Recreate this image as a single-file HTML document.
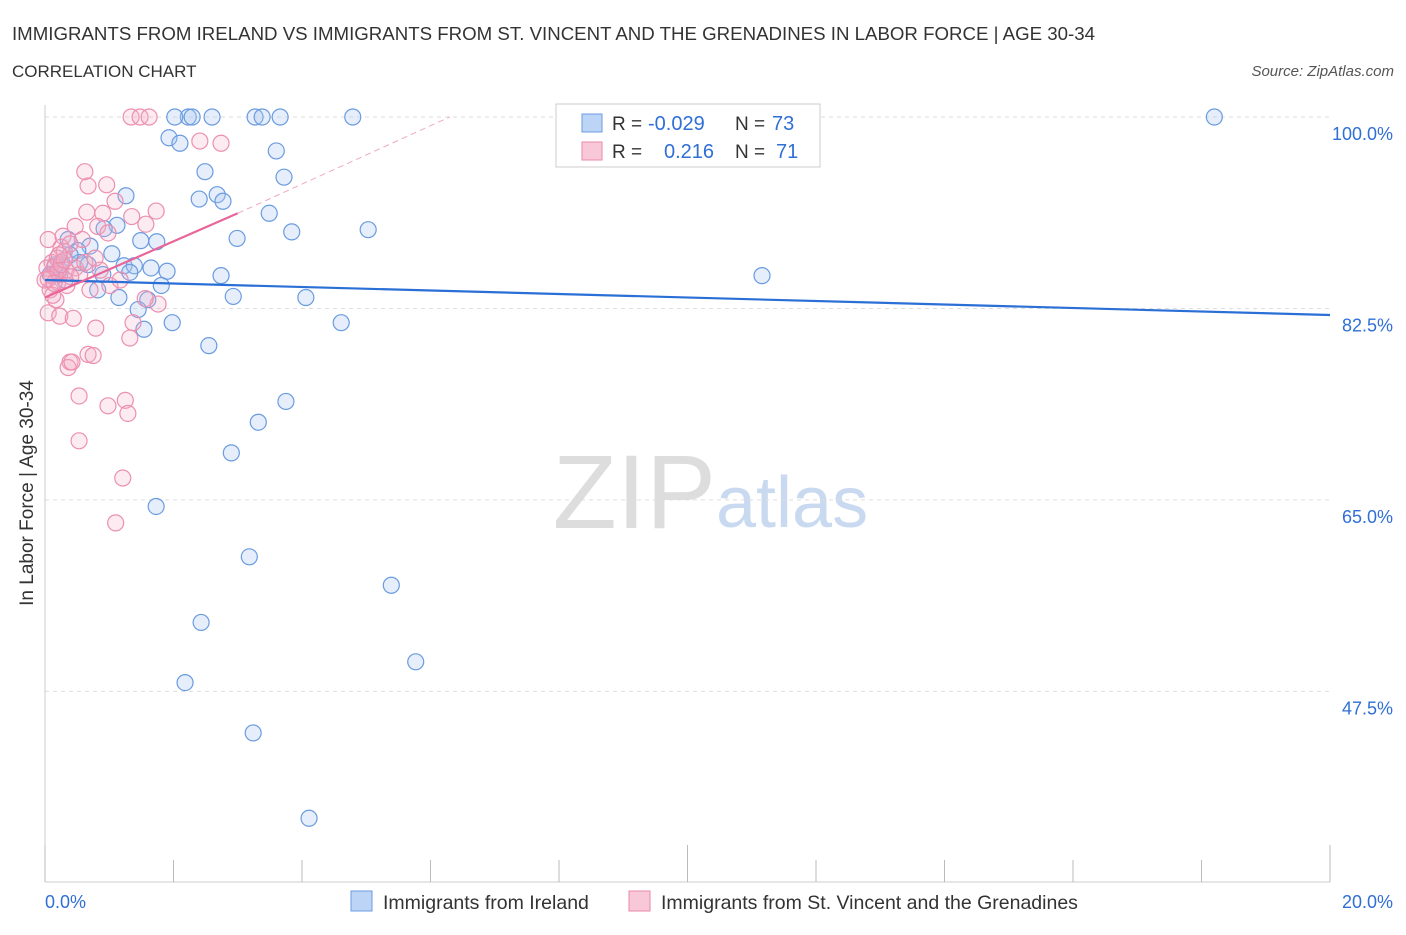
<!DOCTYPE html>
<html><head><meta charset="utf-8"><style>
body{margin:0;background:#fff;font-family:"Liberation Sans",sans-serif;}
svg text{font-family:"Liberation Sans",sans-serif;}
</style></head><body>
<svg id="c" width="1406" height="930">
<text x="12" y="40" font-size="18" fill="#333" textLength="1083" lengthAdjust="spacingAndGlyphs">IMMIGRANTS FROM IRELAND VS IMMIGRANTS FROM ST. VINCENT AND THE GRENADINES IN LABOR FORCE | AGE 30-34</text>
<text x="12" y="77" font-size="17" fill="#333">CORRELATION CHART</text>
<text x="1394" y="76" font-size="15" fill="#555" font-style="italic" text-anchor="end">Source: ZipAtlas.com</text>
<text x="716" y="528" font-size="105" fill="#ddd" text-anchor="end" font-family="Liberation Serif">ZIP</text>
<text x="716" y="527" font-size="72" fill="#c9daf0">atlas</text>
<text transform="translate(33,493) rotate(-90)" font-size="19" fill="#333" text-anchor="middle">In Labor Force | Age 30-34</text>
<g id="grid"></g><g id="marks"></g>
<g>
<rect x="556" y="104" width="264" height="63" fill="#fff" stroke="#ccc"/>
<rect x="582" y="114" width="20" height="18" fill="#bcd4f5" stroke="#6a9be0"/>
<text x="612" y="130" font-size="19" fill="#333">R =</text>
<text x="648" y="130" font-size="20" fill="#2f6fd6">-0.029</text>
<text x="735" y="130" font-size="19" fill="#333">N =</text>
<text x="772" y="130" font-size="20" fill="#2f6fd6">73</text>
<rect x="582" y="142" width="20" height="18" fill="#f8c8d8" stroke="#e88aaa"/>
<text x="612" y="158" font-size="19" fill="#333">R =</text>
<text x="664" y="158" font-size="20" fill="#2f6fd6">0.216</text>
<text x="735" y="158" font-size="19" fill="#333">N =</text>
<text x="776" y="158" font-size="20" fill="#2f6fd6">71</text>
</g>
<g>
<rect x="351" y="891" width="21" height="20" fill="#bcd4f5" stroke="#6a9be0"/>
<text x="383" y="909" font-size="19.5" fill="#333">Immigrants from Ireland</text>
<rect x="629" y="891" width="21" height="20" fill="#f8c8d8" stroke="#e88aaa"/>
<text x="661" y="909" font-size="19.5" fill="#333">Immigrants from St. Vincent and the Grenadines</text>
</g>
</svg>
<script>
const yTicks=[100,82.5,65,47.5];
const xTickLabels=["0.0%","20.0%"];
const blueX=[2.23,2.29,2.02,2.6,3.27,3.38,3.66,4.79,18.2,1.93,2.1,3.6,2.49,3.72,1.26,2.68,2.4,2.77,3.49,1.12,0.92,3.84,5.03,2.99,1.49,1.74,0.7,0.36,0.51,1.04,0.54,0.67,0.26,1.23,1.39,1.65,1.9,0.9,2.74,1.32,11.16,1.81,0.82,1.15,2.93,4.06,1.6,1.45,1.54,1.98,4.61,2.55,3.75,3.32,2.9,1.73,3.18,5.39,2.43,5.77,2.18,3.24,4.11,0.16,0.23,0.39,0.08,0.31];
const blueY=[100,100,100,100,100,100,100,100,100,98.1,97.6,96.9,95,94.5,92.8,92.9,92.5,92.3,91.2,90.1,89.8,89.5,89.7,88.9,88.7,88.6,88.2,88.8,87.8,87.5,86.7,86.5,86.7,86.4,86.4,86.2,85.9,85.6,85.5,85.8,85.5,84.6,84.2,83.5,83.6,83.5,83.3,82.4,80.6,81.2,81.2,79.1,74.0,72.1,69.3,64.4,59.8,57.2,53.8,50.2,48.3,43.7,35.9,86.5,86,87.4,85.6,85.1];
const pinkX=[1.34,1.48,1.62,2.41,2.74,0.62,0.96,0.67,1.09,1.73,0.65,0.9,1.35,0.47,1.57,0.82,0.28,0.98,0.58,0.25,0.05,0.05,0.23,0.44,0.79,1.37,1.32,1.76,1.56,0.67,0.75,0.39,0.36,0.42,0.53,0.98,1.25,1.29,0.53,1.21,1.1,0.17,0.08,0.2,0.33,0.47,0.54,0.11,0.03,0.19,0.3,0.39,0.62,0.86,1.01,0.23,0,0.12,0.34,0.7,1.17,0.78,0.1,0.15,0.2,0.25,0.05,0.3,0.4,0.14,0.22];
const pinkY=[100,100,100,97.8,97.6,95,93.8,93.7,92.3,91.4,91.3,91.2,90.9,90,90.2,90,89.1,89.4,88.8,88.1,88.8,82.1,81.8,81.6,80.7,81.2,79.8,82.9,83.4,78.3,78.2,77.6,77.1,77.6,74.5,73.6,74.1,72.9,70.4,67,62.9,83.3,84.2,84.9,86,86.2,85.6,86.7,86.2,87.1,87.7,88.4,86.7,86,84.6,85.6,85.1,83.7,84.6,84.2,85.1,87.1,85.5,86.3,85.9,86.5,85.2,86.9,85.4,84.8,87.4];
const blueFit=[[0,85.1],[20,81.9]];
const pinkFit=[[0,83.5],[3,91.2]];
const pinkExt=[[3,91.2],[6.3,100]];
const X=v=>45+v*64.25, Y=v=>117+(100-v)*10.94;
const NS="http://www.w3.org/2000/svg";
const g=document.getElementById('grid'), m=document.getElementById('marks');
function mk(p,t,a){const e=document.createElementNS(NS,t);for(const k in a)e.setAttribute(k,a[k]);p.appendChild(e);return e;}
yTicks.forEach(v=>{
 const l=mk(g,'line',{x1:45,x2:1330,y1:Y(v),y2:Y(v),stroke:'#ddd','stroke-dasharray':'4,4'});
 
 
 const t=mk(g,'text',{x:1393,y:Y(v)+23,'font-size':18,fill:'#2f6fd6','text-anchor':'end'});t.textContent=v.toFixed(1)+'%';
 
 
});
mk(g,'line',{x1:45,x2:45,y1:105,y2:882,stroke:'#ccc'});
mk(g,'line',{x1:45,x2:1330,y1:882,y2:882,stroke:'#ccc'});
for(let i=0;i<=10;i++){const l=mk(g,'line',{x1:X(i*2),x2:X(i*2),y1:882,y2:i%5==0?845:860,stroke:'#bbb'});
 
 }
[[0,45,'start'],[1,1393,'end']].forEach(([i,x,a])=>{const t=mk(g,'text',{x:x,y:908,'font-size':18,fill:'#2f6fd6','text-anchor':a});t.textContent=xTickLabels[i];
 
 });
blueX.forEach((x,i)=>{const c=mk(m,'circle',{cx:X(x),cy:Y(blueY[i]),r:8,fill:'rgba(170,200,240,0.3)',stroke:'#6a9be0','stroke-width':1.2});
 
 });
pinkX.forEach((x,i)=>{const c=mk(m,'circle',{cx:X(x),cy:Y(pinkY[i]),r:8,fill:'rgba(245,175,200,0.25)',stroke:'#ec8fb0','stroke-width':1.2});
 
 });
const bl=mk(m,'line',{x1:X(blueFit[0][0]),y1:Y(blueFit[0][1]),x2:X(blueFit[1][0]),y2:Y(blueFit[1][1]),stroke:'#2a6fd6','stroke-width':2.2});


const pl=mk(m,'line',{x1:X(pinkFit[0][0]),y1:Y(pinkFit[0][1]),x2:X(pinkFit[1][0]),y2:Y(pinkFit[1][1]),stroke:'#e8669a','stroke-width':2.2});


const pe=mk(m,'line',{x1:X(pinkExt[0][0]),y1:Y(pinkExt[0][1]),x2:X(pinkExt[1][0]),y2:Y(pinkExt[1][1]),stroke:'#eeaac4','stroke-width':1,'stroke-dasharray':'6,4'});


</script>
</body></html>
